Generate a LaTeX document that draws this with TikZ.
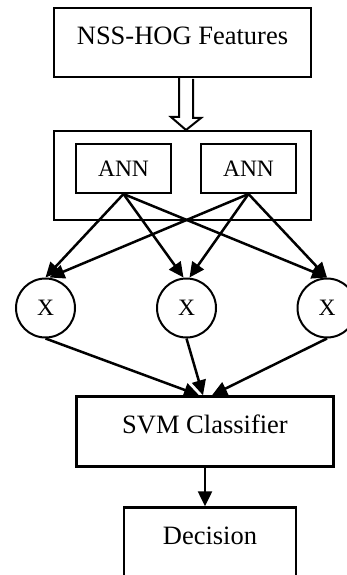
\documentclass[tikz,border=0pt]{standalone}
\usepackage{fontspec}
\setmainfont{Liberation Serif}
\usetikzlibrary{arrows.meta,positioning,calc}

\begin{document}
\begin{tikzpicture}[x=1pt,y=-1pt,
  every node/.style={font=\fontsize{26.5}{30}\selectfont},
  blockbox/.style={draw,line width=2pt,minimum height=69pt,
    text height=18pt,text depth=14pt},
  annbox/.style={draw,line width=2pt,minimum width=95pt,minimum height=49pt,
    font=\fontsize{23.5}{27}\selectfont},
  mult/.style={draw,circle,line width=2pt,minimum size=59pt,inner sep=0pt,
    font=\fontsize{23.5}{27}\selectfont},
  link/.style={-{Triangle[length=15pt,width=14pt]},line width=2.5pt}]
\useasboundingbox (0,0) rectangle (347,575);
\node[blockbox,minimum width=257pt] (nss) at (182.5,42.5) {NSS-HOG Features};
\node[draw,line width=2pt,minimum width=257pt,minimum height=89pt]
  (bank) at (182.5,175.5) {};
\node[annbox] (ann1) at (123.5,168.5) {ANN};
\node[annbox,right=28pt of ann1] (ann2) {ANN};
\node[mult] (x1) at (45.5,308) {X};
\node[mult] (x2) at (186.5,308) {X};
\node[mult] (x3) at (327,308) {X};
\node[blockbox,line width=2.5pt,minimum width=257pt,minimum height=70pt]
  (svm) at (205,431.5) {SVM Classifier};
\node[blockbox,line width=2.5pt,minimum width=172pt] (dec) at (210,542) {Decision};
% hollow feed arrow
\coordinate (feed) at ($(nss.south)+(3.5,0)$);
\draw[line width=2pt,line join=miter] ($(feed)+(-7,0)$) -- ++(0,39) -- ++(-8,0)
  -- (feed |- bank.north) -- ++(15,-12) -- ++(-8,0) -- ++(0,-39);
% ANN outputs to multipliers
\draw[link] (ann1.south) -- (x1.north);
\draw[link] (ann1.south) -- ($(x2.north)+(-3,0)$);
\draw[link] (ann1.south) -- (x3.north);
\draw[link] (ann2.south) -- ($(x1.north)+(4,0)$);
\draw[link] (ann2.south) -- ($(x2.north)+(3,0)$);
\draw[link] (ann2.south) -- (x3.north);
% multipliers to classifier
\draw[link] (x1.south) -- ($(svm.north)+(-6,0)$);
\draw[link] (x2.south) -- ($(svm.north)+(-2,0)$);
\draw[link] (x3.south) -- ($(svm.north)+(7,0)$);
\draw[link] (svm.south) -- (svm.south |- dec.north);
\end{tikzpicture}
\end{document}
